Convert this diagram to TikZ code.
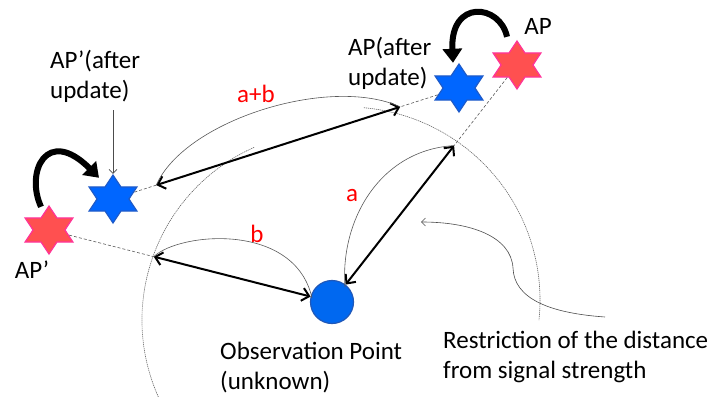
\documentclass[tikz,border=0pt]{standalone}
\usepackage{fontspec}
\setmainfont{Carlito}
\usetikzlibrary{arrows.meta, shapes.geometric, calc}
\definecolor{apred}{HTML}{FF5050}
\definecolor{appink}{HTML}{FF3399}
\definecolor{apblue}{HTML}{0066FF}
\definecolor{apblueline}{HTML}{1F5BC8}
\definecolor{obsblue}{HTML}{0068F0}
\definecolor{obsline}{HTML}{2058B8}

\begin{document}
\begin{tikzpicture}[
      x=1pt, y=-1pt, font=\fontsize{25}{30}\selectfont,
      apstar/.style={star, star points=6, star point ratio=1.73, minimum size=48pt, xscale=1.15, inner sep=0pt, line width=1.2pt},
      oldap/.style={apstar, fill=apred, draw=appink},
      newap/.style={apstar, fill=apblue, draw=apblueline},
      dist/.style={line width=2pt, {Straight Barb[length=7pt,width=13pt]}-{Straight Barb[length=7pt,width=13pt]}},
      ray/.style={densely dashed, draw=gray!70!black, line width=0.6pt},
      rangearc/.style={dash pattern=on 1.2pt off 0.8pt, draw=gray!80!black, line width=0.6pt},
      brace/.style={draw=gray!70!black, line width=0.6pt},
      pointer/.style={draw=gray!60!black, line width=0.6pt, -{Straight Barb[length=4pt,width=8pt]}},
      move/.style={line width=6pt, -{Triangle[length=14pt,width=19pt]}},
      dlabel/.style={text=red},
      txt/.style={align=left, inner sep=0pt},
      ]
      \useasboundingbox (0,0) rectangle (712,401);

      % access points, before and after the update
      \node[oldap] (ap)   at (517,65)  {};
      \node[newap] (apU)  at (459,88)  {};
      \node[oldap] (ap2)  at (49,230)  {};
      \node[newap] (ap2U) at (113,199) {};
      \node[circle, fill=obsblue, draw=obsline, line width=1.2pt, minimum size=43pt, inner sep=0pt] (obs) at (332,302) {};

      % ends of the distances
      \coordinate (ea)   at ($(ap)!0.34!(obs)$);
      \coordinate (eb)   at ($(ap2)!0.37!(obs)$);
      \coordinate (eab1) at ($(apU)!0.17!(ap2U)$);
      \coordinate (eab2) at ($(apU)!0.875!(ap2U)$);

      % restriction circles
      \draw[rangearc] (347,300) ++(-85:193) arc[start angle=-85, end angle=6, radius=193];
      \draw[rangearc] (331,320) ++(246:189) arc[start angle=246, end angle=156, radius=189];

      \draw[ray] (ap) -- (ea);
      \draw[ray] (ap2) -- (eb);
      \draw[ray] (apU) -- (eab1);
      \draw[ray] (eab2) -- (ap2U);

      \draw[dist] (ea) -- (obs);
      \draw[dist] (eb) -- (obs);
      \draw[dist] (eab1) -- (eab2);

      \draw[brace] (345,287) .. controls (340,220) and (380,150) .. (ea);
      \draw[brace] (eb) .. controls (180,232) and (295,222) .. (312,298);
      \draw[brace] (eab2) .. controls (185,120) and (330,75) .. (eab1);

      \node[dlabel] (la)  at (352,196) {a};
      \node[dlabel] (lb)  at (257,234) {b};
      \node[dlabel] (lab) at (256,94)  {a+b};

      % the updates
      \draw[move] ($(ap.north)+(-10,-3)$) .. controls +(-7,-33) and +(-3,-64) .. ($(apU.north)+(-6,0)$);
      \draw[move] ($(ap2.north)+(-8,2)$) .. controls +(-16,-35) and +(-52,-52) .. ($(ap2U.north)+(-14,4)$);

      \node (apLab)   at (538,26)  {AP};
      \node[txt, anchor=west] (apULab)  at (348,63) {AP(after\\update)};
      \node (ap2Lab)  at (32,270)  {AP’};
      \node[txt, anchor=west] (ap2ULab) at (50,76)  {AP’(after\\update)};
      \draw[pointer] (ap2ULab.south -| ap2U.north) ++(0,8) -- (ap2U.north);

      \node[txt, anchor=west] (obsLab)   at (220,368) {Observation Point\\(unknown)};
      \node[txt, anchor=west] (restrLab) at (443,357) {Restriction of the distance\\from signal strength};
      \coordinate (rs) at (605,317);
      \draw[pointer] (rs) .. controls (548,313) and (514,298) .. (513,268) .. controls (511,236) and (470,222) .. (421,222);
    \end{tikzpicture}
\end{document}
